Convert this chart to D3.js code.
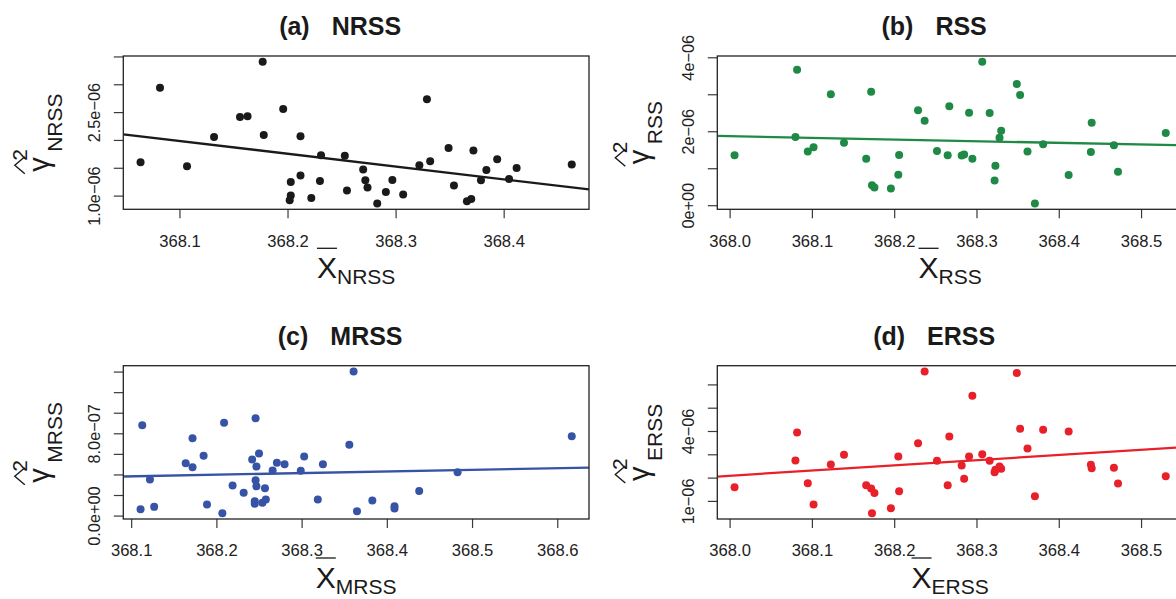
<!DOCTYPE html>
<html>
<head>
<meta charset="utf-8">
<script src="https://cdn.jsdelivr.net/npm/d3@7"></script>
<style>
  body { margin: 0; background: #fff; }
  svg { display: block; }
  svg text { font-family: "Liberation Sans", Arial, Helvetica, sans-serif; }
</style>
</head>
<body>
<div id="chart"></div>
<script>
// ---- data ----
// (a) NRSS
const xNRSS = [368.064, 368.082, 368.107, 368.132, 368.156, 368.163, 368.177, 368.178, 368.196, 368.212,
               368.212, 368.203, 368.203, 368.202, 368.222, 368.231, 368.230, 368.253, 368.255, 368.270,
               368.272, 368.274, 368.283, 368.291, 368.297, 368.307, 368.322, 368.329, 368.332, 368.349,
               368.354, 368.366, 368.370, 368.372, 368.379, 368.384, 368.394, 368.405, 368.412, 368.463];
const yNRSS = [1.601e-6, 2.937e-6, 1.529e-6, 2.052e-6, 2.413e-6, 2.426e-6, 3.406e-6, 2.088e-6, 2.558e-6, 2.065e-6,
               1.361e-6, 1.245e-6, 1.000e-6, 0.915e-6, 0.957e-6, 1.727e-6, 1.264e-6, 1.715e-6, 1.090e-6, 1.469e-6,
               1.276e-6, 1.144e-6, 0.856e-6, 1.065e-6, 1.282e-6, 1.018e-6, 1.547e-6, 2.733e-6, 1.619e-6, 1.854e-6,
               1.180e-6, 0.897e-6, 0.939e-6, 1.812e-6, 1.276e-6, 1.462e-6, 1.655e-6, 1.300e-6, 1.498e-6, 1.560e-6];

// (b) RSS and (d) ERSS share the same sample means
const xRSS = [368.006, 368.082, 368.080, 368.095, 368.102, 368.123, 368.139, 368.166, 368.172, 368.173,
              368.176, 368.196, 368.205, 368.206, 368.229, 368.237, 368.252, 368.265, 368.267, 368.282,
              368.285, 368.291, 368.295, 368.307, 368.316, 368.323, 368.322, 368.328, 368.330, 368.349,
              368.353, 368.362, 368.381, 368.371, 368.412, 368.440, 368.439, 368.467, 368.472, 368.530];
const yRSS = [1.351e-6, 3.665e-6, 1.846e-6, 1.449e-6, 1.568e-6, 3.000e-6, 1.692e-6, 1.259e-6, 3.070e-6, 0.540e-6,
              0.476e-6, 0.449e-6, 0.827e-6, 1.359e-6, 2.568e-6, 2.286e-6, 1.468e-6, 1.351e-6, 2.676e-6, 1.341e-6,
              1.368e-6, 2.503e-6, 1.259e-6, 3.881e-6, 2.495e-6, 1.070e-6, 0.665e-6, 1.827e-6, 2.016e-6, 3.278e-6,
              2.981e-6, 1.449e-6, 1.649e-6, 0.043e-6, 0.819e-6, 2.232e-6, 1.441e-6, 1.622e-6, 0.908e-6, 1.954e-6];

// (c) MRSS
const xMRSS = [368.111, 368.113, 368.122, 368.127, 368.164, 368.172, 368.172, 368.185, 368.189, 368.207,
               368.209, 368.219, 368.232, 368.242, 368.246, 368.250, 368.247, 368.246, 368.247, 368.257,
               368.245, 368.245, 368.254, 368.258, 368.266, 368.271, 368.280, 368.299, 368.303, 368.319,
               368.325, 368.356, 368.361, 368.365, 368.383, 368.409, 368.409, 368.438, 368.483, 368.617];
const yMRSS = [0.61e-7, 8.79e-7, 3.51e-7, 0.85e-7, 5.09e-7, 7.53e-7, 4.70e-7, 5.81e-7, 1.07e-7, 0.22e-7,
               9.03e-7, 2.92e-7, 2.21e-7, 5.45e-7, 9.47e-7, 6.04e-7, 4.77e-7, 3.44e-7, 2.85e-7, 2.66e-7,
               1.39e-7, 1.14e-7, 1.24e-7, 1.56e-7, 4.38e-7, 5.13e-7, 5.00e-7, 4.35e-7, 5.74e-7, 1.56e-7,
               5.00e-7, 6.88e-7, 14.02e-7, 0.42e-7, 1.46e-7, 0.91e-7, 0.68e-7, 2.40e-7, 4.22e-7, 7.72e-7];

// (d) ERSS
const xERSS = xRSS;
const yERSS = [1.585e-6, 3.936e-6, 2.733e-6, 1.757e-6, 0.841e-6, 2.561e-6, 2.978e-6, 1.671e-6, 1.529e-6, 0.467e-6,
               1.344e-6, 0.682e-6, 2.905e-6, 1.413e-6, 3.476e-6, 6.559e-6, 2.720e-6, 1.671e-6, 3.764e-6, 2.518e-6,
               1.946e-6, 2.905e-6, 5.514e-6, 3.003e-6, 2.720e-6, 2.333e-6, 2.230e-6, 2.475e-6, 2.376e-6, 6.486e-6,
               4.095e-6, 3.248e-6, 4.052e-6, 1.198e-6, 3.979e-6, 2.400e-6, 2.548e-6, 2.419e-6, 1.744e-6, 2.058e-6];

// fitted lines, two points each: [x0, x1], [y0, y1]
const fitNRSS = { x: [368.0484, 368.4800], y: [2.101e-6, 1.108e-6] };
const fitRSS  = { x: [367.9845, 368.5429], y: [1.873e-6, 1.622e-6] };
const fitMRSS = { x: [368.0913, 368.6379], y: [3.80e-7, 4.67e-7] };
const fitERSS = { x: [367.9845, 368.5429], y: [2.045e-6, 3.291e-6] };

// ticks and their labels (R drops the labels that would overlap)
const xTicksNRSS = [368.1, 368.2, 368.3, 368.4];
const xTicksRSS  = [368.0, 368.1, 368.2, 368.3, 368.4, 368.5];
const xTicksMRSS = [368.1, 368.2, 368.3, 368.4, 368.5, 368.6];
const yTicksNRSS = [1.0e-6, 1.5e-6, 2.0e-6, 2.5e-6, 3.0e-6, 3.5e-6];
const yLabelsNRSS = ["1.0e\u221206", "", "", "2.5e\u221206", "", ""];
const yTicksRSS  = [0, 1e-6, 2e-6, 3e-6, 4e-6];
const yLabelsRSS = ["0e+00", "", "2e\u221206", "", "4e\u221206"];
const yTicksMRSS = [0, 2e-7, 4e-7, 6e-7, 8e-7, 10e-7, 12e-7, 14e-7];
const yLabelsMRSS = ["0.0e+00", "", "", "", "8.0e\u221207", "", "", ""];
const yTicksERSS = [1e-6, 2e-6, 3e-6, 4e-6, 5e-6, 6e-6];
const yLabelsERSS = ["1e\u221206", "", "", "4e\u221206", "", ""];

// ---- layout ----
var width = 1176, height = 599;
var boxW = 465.7, boxH = 153.3;

var svg = d3.select("#chart")
  .append("svg")
    .attr("width", width)
    .attr("height", height)
    .style("overflow", "hidden");

var panels = [
  { tag: "a", name: "NRSS", xs: xNRSS, ys: yNRSS, fit: fitNRSS, xt: xTicksNRSS, yt: yTicksNRSS, yl: yLabelsNRSS,
    color: "#1a1a1a", left: 123.3, top: 56, labOff: 61.5 },
  { tag: "b", name: "RSS", xs: xRSS, ys: yRSS, fit: fitRSS, xt: xTicksRSS, yt: yTicksRSS, yl: yLabelsRSS,
    color: "#1e8a45", left: 717.3, top: 56, labOff: 55 },
  { tag: "c", name: "MRSS", xs: xMRSS, ys: yMRSS, fit: fitMRSS, xt: xTicksMRSS, yt: yTicksMRSS, yl: yLabelsMRSS,
    color: "#3653a6", left: 123.3, top: 365.7, labOff: 61.5 },
  { tag: "d", name: "ERSS", xs: xERSS, ys: yERSS, fit: fitERSS, xt: xTicksRSS, yt: yTicksERSS, yl: yLabelsERSS,
    color: "#e8202a", left: 717.3, top: 365.7, labOff: 55 }
];

// R pads the data range by 4% on each side
function padded(v) {
  var e = d3.extent(v), r = (e[1] - e[0]) * 0.04;
  return [e[0] - r, e[1] + r];
}

panels.forEach(drawPanel);

function drawPanel(p) {
  var x = d3.scaleLinear().domain(padded(p.xs)).range([0, boxW]);
  var y = d3.scaleLinear().domain(padded(p.ys)).range([boxH, 0]);

  var g = svg.append("g").attr("transform", "translate(" + p.left + "," + p.top + ")");

  g.append("clipPath").attr("id", "clip-" + p.tag)
    .append("rect").attr("width", boxW).attr("height", boxH);

  // x axis
  var xa = g.append("g")
      .attr("transform", "translate(0," + boxH + ")")
      .call(d3.axisBottom(x).tickValues(p.xt).tickFormat(d3.format(".1f"))
              .tickSize(9).tickSizeOuter(0).tickPadding(16.6));
  xa.select(".domain").remove();
  xa.attr("font-family", null).attr("font-size", 16.6);
  xa.selectAll("line").attr("stroke", "#3a3a3a").attr("stroke-width", 1.2);
  xa.selectAll("text").attr("fill", "#222");

  // y axis, labels parallel to the axis
  var ya = g.append("g")
      .call(d3.axisLeft(y).tickValues(p.yt).tickFormat(function(d, i) { return p.yl[i]; })
              .tickSize(9.5).tickSizeOuter(0));
  ya.select(".domain").remove();
  ya.attr("font-family", null).attr("font-size", 16.3);
  ya.selectAll("line").attr("stroke", "#3a3a3a").attr("stroke-width", 1.2);
  ya.selectAll("text")
      .attr("fill", "#222")
      .attr("transform", "rotate(-90)")
      .attr("x", 0)
      .attr("y", -23.3)
      .attr("dy", 0)
      .attr("text-anchor", "middle");

  // fitted line across the whole plot region
  var slope = (p.fit.y[1] - p.fit.y[0]) / (p.fit.x[1] - p.fit.x[0]);
  var dom = x.domain();
  var lineData = dom.map(function(v) { return [v, p.fit.y[0] + slope * (v - p.fit.x[0])]; });
  g.append("path")
      .attr("clip-path", "url(#clip-" + p.tag + ")")
      .attr("d", d3.line().x(function(d) { return x(d[0]); }).y(function(d) { return y(d[1]); })(lineData))
      .attr("fill", "none")
      .attr("stroke", p.color)
      .attr("stroke-width", 2.3);

  // points
  g.append("g").selectAll("circle")
      .data(p.xs.map(function(v, i) { return [v, p.ys[i]]; }))
    .enter().append("circle")
      .attr("cx", function(d) { return x(d[0]); })
      .attr("cy", function(d) { return y(d[1]); })
      .attr("r", 4)
      .attr("fill", p.color);

  // box
  g.append("rect")
      .attr("width", boxW).attr("height", boxH)
      .attr("fill", "none").attr("stroke", "#222").attr("stroke-width", 1.3);

  // title
  var t = g.append("text")
      .attr("x", boxW / 2 - 16)
      .attr("y", -21)
      .attr("text-anchor", "middle")
      .attr("font-weight", "bold")
      .attr("font-size", 25)
      .attr("fill", "#1a1a1a");
  t.append("tspan").text("(" + p.tag + ")");
  t.append("tspan").attr("dx", 22).text(p.name);

  // x label: bar(X)[name]
  var xl = g.append("g").attr("transform", "translate(" + (boxW / 2) + "," + (boxH + 69) + ")");
  var xt = xl.append("text").attr("font-size", 30).attr("fill", "#1a1a1a");
  var xMain = xt.append("tspan").text("X");
  xt.append("tspan").attr("font-size", 21).attr("dy", 6).text(p.name);
  var tw = xt.node().getComputedTextLength();
  var xw = xMain.node().getComputedTextLength();
  xt.attr("x", -tw / 2);
  xl.append("line")
      .attr("x1", -tw / 2).attr("x2", -tw / 2 + xw)
      .attr("y1", -30).attr("y2", -30)
      .attr("stroke", "#1a1a1a").attr("stroke-width", 1.3);

  // y label: hat(gamma)^2[name], rotated
  var yl = g.append("g").attr("transform", "translate(" + (-p.labOff) + "," + (boxH / 2) + ") rotate(-90)");
  var sub = yl.append("text").attr("font-size", 21).attr("fill", "#1a1a1a").text(p.name);
  var sw = sub.node().getComputedTextLength();
  var s = -(20 + sw) / 2;
  yl.append("text").attr("font-size", 29).attr("fill", "#1a1a1a").attr("x", s).attr("y", -13).text("\u03b3");
  sub.attr("x", s + 20).attr("y", 0);
  yl.append("text").attr("font-size", 21).attr("fill", "#1a1a1a").attr("x", s + 11).attr("y", -35).text("2");
  yl.append("path")
      .attr("d", "M" + (s - 2) + "," + (-37) + "L" + (s + 6.5) + "," + (-47) + "L" + (s + 15) + "," + (-37))
      .attr("fill", "none").attr("stroke", "#1a1a1a").attr("stroke-width", 1.4);
}
</script>
</body>
</html>
